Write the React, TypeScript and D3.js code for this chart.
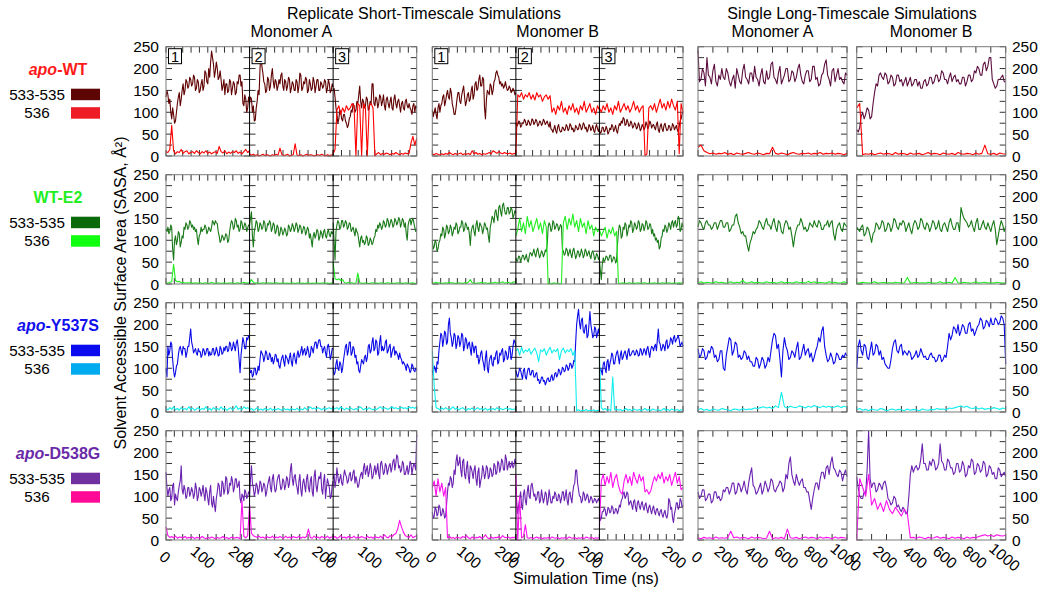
import React from "react";
import * as d3 from "d3";

// ---------- data (SASA, Å^2)
// 533-535: short replicates every 2.5 ns (0-220 ns), long runs every 10 ns (0-1000 ns)
// 536:     short replicates every 5 ns, long runs every 20 ns
const shortTicks = [0, 100, 200];
const longTicks = [0, 200, 400, 600, 800, 1000];
const yTicks = [0, 50, 100, 150, 200, 250];
const rowLabels = [["apo", "-WT"], ["", "WT-E2"], ["apo", "-Y537S"], ["apo", "-D538G"]];
const seriesLabels = ["533-535", "536"];

// apo-WT
const apoWT_sA_533 = [
  [135,150,140,120,130,100,85,110,95,75,80,100,120,135,145,115,130,150,165,140,150,175,170,155,160,180,175,160,165,185,180,150,155,175,170,145,150,165,175,150,160,195,190,170,165,200,180,215,240,225,210,180,195,215,200,175,180,195,175,150,160,175,140,165,165,145,150,175,170,140,155,170,165,140,145,170,165,185,185,160,170,120,115,140,130,100,110,135,125],
  [120,135,130,100,115,80,82,110,125,150,140,200,230,205,190,170,165,145,150,180,175,150,160,185,200,170,155,175,170,150,160,175,165,185,190,160,150,175,170,150,160,180,175,145,155,170,165,150,150,175,170,145,160,190,185,150,155,170,165,180,175,145,150,175,165,150,155,180,170,145,160,175,175,150,150,170,165,155,160,175,170,145,155,175,165,145,150,165,158],
  [150,155,135,110,95,75,85,105,100,85,80,95,95,80,75,65,70,85,90,105,100,120,115,100,105,125,120,140,160,125,110,130,125,110,115,135,130,105,110,125,120,165,165,120,115,135,130,110,120,140,135,115,125,140,115,105,130,135,120,110,125,135,110,105,130,140,120,110,125,130,115,100,120,125,110,105,125,130,115,110,120,110,105,95,115,120,100,115,110],
];
const apoWT_sA_536 = [
  [10,8,15,70,12,5,10,8,15,6,10,12,5,8,10,6,12,8,5,10,7,12,6,9,5,8,10,6,22,10,7,12,5,9,6,10,8,12,6,9,5,10,15,8,12],
  [5,2,4,1,3,0,2,4,1,3,2,0,3,1,4,2,18,3,1,2,4,0,2,3,28,2,1,3,0,2,4,1,3,2,0,2,3,1,4,2,0,3,1,2,3],
  [5,15,105,115,95,110,100,115,105,110,120,115,0,120,115,0,120,110,0,115,120,110,0,5,8,3,6,4,7,5,3,6,4,8,5,3,6,4,7,5,6,30,45,25,40],
];
const apoWT_sB_533 = [
  [105,90,100,110,95,85,110,120,100,115,120,135,140,115,125,140,150,135,130,155,145,120,110,95,95,110,130,145,145,125,120,140,150,160,135,115,125,140,145,125,130,150,160,130,140,165,170,150,155,175,185,160,160,180,175,110,85,130,150,145,140,165,160,140,150,170,175,190,195,185,180,165,170,160,165,155,160,170,158,150,152,160,155,145,148,155,150,140,145],
  [75,68,72,80,78,66,70,76,75,84,80,70,72,82,78,70,74,85,82,72,76,84,80,68,72,80,78,70,74,84,80,72,76,80,72,66,78,62,60,54,62,70,58,52,66,72,60,55,56,66,64,58,60,72,68,58,62,74,70,60,64,55,58,70,66,60,62,74,70,60,64,76,72,62,66,55,60,72,68,58,63,70,58,54,66,72,62,56,68],
  [60,52,55,66,65,55,58,68,62,50,55,64,60,72,68,56,62,70,58,52,65,74,70,80,75,88,85,70,72,84,78,68,70,80,75,64,68,76,72,62,65,76,70,58,62,72,68,60,65,78,72,62,68,80,75,64,70,72,65,60,72,78,60,54,68,74,62,56,70,75,65,58,60,70,68,58,62,74,70,60,65,70,60,54,68,80,85,95,100],
];
const apoWT_sB_536 = [
  [5,3,6,4,2,5,3,6,4,8,5,3,6,4,5,7,3,5,4,6,3,12,5,8,4,6,3,5,4,6,8,5,12,9,6,10,7,5,8,6,5,7,4,6,5],
  [5,140,135,145,130,140,135,145,130,140,128,145,135,140,125,135,140,130,138,100,110,95,115,105,125,100,110,95,115,105,120,100,110,95,115,105,125,100,110,120,100,110,95,115,105],
  [110,100,115,105,120,100,110,95,115,105,125,100,110,120,105,115,100,110,125,105,115,100,110,115,0,5,110,115,105,120,100,115,130,110,120,105,125,110,130,115,105,125,5,120,100],
];
const apoWT_lA_533 = [240,170,175,200,190,160,225,185,180,165,195,210,170,160,185,175,200,180,175,200,190,170,160,175,185,155,200,185,170,165,195,210,180,175,165,190,190,170,205,180,175,160,185,200,170,165,195,175,180,210,215,180,175,165,190,205,165,175,185,200,200,170,175,195,190,170,180,200,210,185,170,165,185,195,195,170,175,205,205,175,180,160,165,185,190,210,220,185,175,160,195,200,170,185,200,175,180,170,165,190,185];
const apoWT_lA_536 = [20,25,12,8,5,7,4,6,5,8,4,6,3,7,5,4,6,8,5,4,7,5,3,6,5,20,6,4,7,5,3,6,8,5,4,6,5,7,4,6,5,8,4,6,5,7,4,6,5,3,6];
const apoWT_lB_533 = [60,55,65,90,100,85,95,110,105,85,90,120,145,165,160,185,190,180,175,190,185,165,170,185,180,160,165,185,185,170,175,160,170,180,160,170,180,160,165,175,175,160,170,155,155,170,175,160,165,180,180,165,170,185,185,170,175,195,190,175,175,165,180,190,170,180,185,170,175,165,165,180,180,160,170,185,185,170,175,195,190,205,200,185,185,210,215,195,205,225,225,175,165,155,160,175,175,180,185,170,170];
const apoWT_lB_536 = [110,120,3,5,4,6,3,5,7,4,6,5,3,8,4,6,5,3,7,4,5,6,3,5,8,4,6,5,3,7,5,4,6,3,8,5,4,6,5,3,7,4,6,25,5,4,6,3,7,5,4];

// WT-E2
const wtE2_sA_533 = [
  [125,120,130,115,120,135,130,80,55,100,110,90,100,120,115,85,95,110,105,130,125,140,135,125,130,145,140,130,135,125,130,120,125,105,90,110,115,130,120,125,125,135,130,115,120,130,125,120,130,145,140,135,145,140,138,120,110,95,100,112,108,100,105,115,112,95,100,120,135,145,140,125,130,150,145,130,135,120,125,145,140,125,130,140,135,120,128,135,132],
  [135,150,165,110,85,120,130,145,140,120,125,140,135,125,130,145,140,120,125,138,135,145,140,120,128,140,135,115,120,135,130,110,115,130,125,112,118,128,122,110,115,135,130,120,125,138,132,120,128,140,135,118,125,135,130,115,122,132,128,112,120,130,125,105,115,100,85,110,118,105,112,125,120,100,108,122,115,105,120,125,110,105,118,125,112,108,120,115,120],
  [140,100,55,120,135,145,140,125,130,145,145,130,135,145,140,125,130,140,138,120,125,130,120,110,128,120,115,100,85,105,110,95,100,90,95,110,105,88,92,105,100,90,95,105,110,125,120,135,128,140,135,125,130,145,140,130,135,150,145,130,138,148,142,130,135,150,145,135,140,152,148,130,138,150,145,130,140,115,100,135,145,150,135,145,150,140,130,120,125],
];
const wtE2_sA_536 = [
  [3,2,4,5,45,8,5,6,3,4,2,3,2,4,1,3,2,2,3,1,2,3,1,2,4,2,1,3,2,1,2,3,1,2,2,3,1,2,3,1,2,4,2,3,2],
  [3,10,4,2,3,1,2,3,2,1,3,2,2,1,3,2,1,2,3,1,2,1,3,2,1,2,3,1,2,1,2,3,1,2,1,3,2,1,2,3,1,2,1,2,3],
  [50,12,10,12,8,10,3,2,4,2,3,1,2,25,3,2,1,3,2,1,2,3,1,2,1,3,2,1,2,3,1,2,1,2,3,1,2,1,3,2,1,2,3,1,2],
];
const wtE2_sB_533 = [
  [100,80,85,100,95,75,80,95,100,115,110,130,125,105,115,135,130,115,120,135,128,110,118,130,125,140,135,115,120,130,130,145,140,120,125,140,135,125,130,115,88,120,130,135,120,110,135,145,128,120,140,135,130,115,125,140,135,125,128,110,95,130,140,155,150,140,165,170,155,145,175,180,165,155,180,185,170,160,160,175,175,160,165,175,170,150,158,168,162],
  [60,52,55,64,62,50,58,66,65,55,60,68,55,50,62,72,70,64,72,80,68,62,75,82,70,60,66,76,72,62,68,78,74,90,130,140,135,120,125,145,140,125,130,138,135,122,128,136,132,80,75,66,70,82,78,64,72,80,68,60,76,82,70,58,65,76,74,62,68,80,72,60,66,80,75,64,70,76,64,58,72,76,68,55,60,70,66,56,62],
  [55,30,10,45,60,52,55,64,62,54,58,66,65,50,55,62,60,48,52,90,120,135,130,105,110,130,125,140,135,110,120,135,130,145,140,118,125,140,135,125,130,145,140,120,125,138,135,122,130,145,140,125,128,138,135,115,125,110,115,100,105,95,100,80,85,105,110,125,120,135,130,118,125,140,135,125,140,145,130,140,145,130,135,155,150,120,125,140,130],
];
const wtE2_sB_536 = [
  [3,2,4,2,3,1,2,3,2,4,2,3,1,2,3,2,1,3,2,4,10,3,2,1,3,2,4,2,3,1,2,3,2,4,3,2,3,5,2,3,4,2,3,5,4],
  [110,125,150,120,140,115,155,130,145,120,135,150,125,140,115,145,130,0,2,0,3,1,2,0,2,140,155,125,150,135,160,130,145,120,150,130,140,115,145,125,135,110,130,120,125],
  [125,110,120,130,105,125,115,130,110,120,2,1,3,2,1,2,3,1,2,1,3,2,1,2,3,1,2,1,2,3,1,2,1,3,2,1,2,3,1,2,1,2,3,2,1],
];
const wtE2_lA_533 = [130,145,140,130,125,140,145,135,135,125,130,140,140,125,135,145,145,130,130,140,140,120,125,135,135,155,160,140,130,115,120,110,110,90,75,95,105,120,115,125,130,145,140,130,125,140,150,135,135,125,140,150,130,120,145,140,120,115,135,145,140,125,130,110,85,110,125,135,135,150,140,125,130,120,125,140,135,130,145,135,130,145,140,125,125,135,135,145,130,140,145,115,100,125,135,140,125,120,140,135,130];
const wtE2_lA_536 = [3,5,2,4,3,2,5,3,4,2,3,5,2,4,3,8,2,3,5,2,4,3,2,5,3,4,2,3,5,2,4,3,2,5,3,4,2,6,3,5,2,4,3,2,5,3,4,2,3,5,2];
const wtE2_lB_533 = [130,125,120,130,135,110,115,130,125,110,95,115,120,140,135,125,130,145,140,120,125,140,135,120,130,150,145,130,125,140,135,145,140,120,130,140,125,115,135,145,140,125,130,150,145,130,125,140,135,120,130,145,140,125,130,145,125,120,135,140,130,120,140,150,135,125,125,140,140,120,175,160,150,145,140,130,135,145,130,120,140,150,125,125,135,145,130,125,140,130,120,135,145,125,90,110,130,145,135,120,132];
const wtE2_lB_536 = [3,2,4,3,2,3,5,2,3,4,2,3,2,4,3,2,3,15,2,3,4,2,3,2,4,3,2,3,5,2,3,4,2,15,3,2,4,3,2,3,5,2,3,4,2,3,2,4,3,2,3];

// apo-Y537S
const y537s_sA_533 = [
  [100,80,150,130,140,160,155,120,95,80,90,105,110,130,145,150,140,130,150,145,145,125,135,150,150,170,190,160,150,135,140,145,135,130,145,138,138,125,130,145,142,130,135,145,145,128,138,130,132,145,145,130,135,148,140,128,130,150,145,132,135,148,140,150,150,138,142,160,155,140,145,160,150,140,158,165,148,120,90,130,150,170,160,145,145,170,165,175,170],
  [100,90,95,80,85,100,100,85,90,105,95,120,140,135,130,115,125,140,135,120,120,135,130,115,125,110,118,132,130,115,122,105,100,115,125,130,115,105,130,125,120,110,125,135,115,105,128,135,120,110,130,140,125,130,140,150,130,140,145,130,135,150,140,125,130,150,145,135,150,160,160,145,155,165,165,150,150,135,145,150,135,125,150,155,140,120,130,145,145],
  [100,85,90,110,120,100,95,115,110,90,100,120,135,150,155,130,140,160,160,130,135,150,145,125,130,110,115,95,90,105,120,115,110,125,130,115,125,150,155,135,140,160,170,140,145,165,160,130,135,160,175,140,150,140,145,160,165,135,140,150,155,125,135,145,150,130,140,135,130,120,135,125,120,110,115,110,105,95,110,105,100,90,95,110,105,95,92,100,95],
];
const y537s_sA_536 = [
  [8,5,10,6,12,5,8,4,10,6,8,5,12,6,9,4,7,10,5,8,6,12,5,8,4,10,6,8,5,12,6,9,4,7,10,5,8,14,6,9,5,12,8,10,7],
  [5,8,4,6,10,5,7,4,8,6,5,9,4,7,5,8,6,4,9,5,7,4,8,6,5,9,4,7,5,10,6,8,12,7,9,6,10,8,5,9,6,8,10,7,9],
  [5,8,10,6,12,8,5,9,6,10,7,5,8,6,12,9,5,8,6,10,7,5,8,6,9,12,7,10,8,6,9,12,8,10,7,9,11,8,10,7,12,9,11,8,13],
];
const y537s_sB_533 = [
  [95,85,105,100,90,115,110,140,160,180,175,150,165,185,180,155,160,200,215,180,170,150,160,180,175,145,155,175,170,150,160,180,175,140,150,170,165,145,155,160,145,130,160,150,135,150,150,125,130,110,120,135,140,120,110,95,125,140,100,90,115,125,130,110,105,125,120,135,140,110,115,135,130,140,145,115,120,140,135,120,125,150,145,120,130,150,165,160,150],
  [95,85,80,90,100,95,85,75,95,100,80,75,90,100,100,85,85,95,95,80,80,88,90,72,75,65,70,80,80,70,72,62,68,76,78,70,70,80,85,72,75,88,90,80,85,98,95,85,90,102,100,92,95,108,105,95,100,112,110,100,105,118,115,160,200,220,235,205,190,210,215,185,180,195,200,170,175,200,230,200,185,170,175,195,190,170,180,190,175],
  [90,100,95,85,110,115,100,90,115,120,95,110,120,135,130,110,110,125,135,140,125,110,130,140,120,125,135,140,130,120,138,145,128,130,135,140,140,130,132,142,138,128,130,145,142,130,135,145,140,130,145,150,135,125,142,150,148,140,150,155,140,165,190,160,155,140,145,155,150,140,160,165,145,150,155,170,165,155,170,175,160,165,170,175,165,150,155,160,150],
];
const y537s_sB_536 = [
  [140,60,10,8,5,9,6,10,7,5,8,12,6,9,5,8,10,6,4,8,6,9,5,7,10,6,8,5,9,4,7,6,8,5,10,6,8,5,7,9,6,8,5,7,6],
  [140,145,130,148,135,142,138,145,132,140,146,135,115,142,138,145,130,140,148,135,142,138,145,120,140,146,135,142,138,145,130,140,3,5,2,4,3,6,2,4,3,5,2,4,3],
  [130,10,5,8,4,6,3,80,5,7,4,6,3,5,8,4,6,3,7,5,4,6,3,5,8,4,6,3,7,5,4,6,3,5,8,4,6,3,7,5,4,6,3,5,4],
];
const y537s_lA_533 = [145,125,130,145,140,120,125,140,135,150,145,125,130,115,120,140,140,100,95,130,150,170,165,130,140,160,155,125,130,120,125,140,135,120,128,115,115,105,105,125,120,100,110,125,118,100,108,125,115,140,165,180,175,145,155,120,80,140,170,150,140,120,125,140,135,125,145,160,120,125,140,155,130,140,145,125,135,115,125,140,150,170,160,185,195,150,130,115,120,135,125,110,115,135,130,120,120,130,125,135,128];
const y537s_lA_536 = [5,8,4,6,3,7,5,4,8,6,5,3,7,6,4,8,5,7,6,9,8,10,12,9,11,8,14,10,45,12,9,13,11,10,14,12,9,13,11,15,12,10,14,11,13,9,12,14,10,13,11];
const y537s_lB_533 = [100,150,165,140,130,155,150,125,120,140,160,130,135,155,150,130,140,120,125,110,105,100,100,120,145,160,165,140,135,150,155,130,140,135,130,140,135,120,125,130,140,125,130,145,135,125,128,120,120,130,135,125,125,115,118,130,130,115,120,130,125,150,180,165,175,195,190,180,200,175,185,200,195,180,180,200,205,185,190,175,185,195,200,215,210,190,195,210,205,195,215,200,200,215,210,200,205,220,215,200,110];
const y537s_lB_536 = [5,8,4,6,3,7,5,4,8,6,3,5,7,4,6,5,3,7,4,6,5,3,7,5,4,6,5,8,6,7,5,9,8,10,12,14,11,13,9,8,10,7,9,6,8,7,10,8,6,9,7];

// apo-D538G
const d538g_sA_533 = [
  [155,120,100,115,120,90,95,125,130,80,105,95,90,110,125,135,170,115,105,125,115,95,100,120,120,100,108,120,112,95,105,130,118,90,100,120,115,100,110,125,105,90,120,110,95,80,110,125,85,75,100,80,65,95,110,130,125,100,100,135,130,105,115,145,140,105,110,130,125,145,135,110,120,140,140,120,125,135,95,85,105,100,90,115,110,95,100,110,105],
  [100,140,170,130,120,100,110,130,125,105,115,135,130,110,118,130,125,100,110,125,135,145,120,110,140,150,125,110,115,135,145,150,130,115,120,140,135,115,125,145,140,120,130,160,175,140,125,145,150,130,120,105,135,150,115,100,130,140,125,110,140,150,120,110,135,145,110,100,145,160,125,110,130,145,140,155,115,105,135,150,95,120,140,130,120,95,100,125,135],
  [140,150,120,135,165,145,130,140,150,130,125,145,160,150,145,130,135,150,155,135,140,155,160,130,145,135,120,125,140,150,155,140,165,175,150,160,170,145,155,175,165,140,145,160,170,150,160,175,150,140,175,180,165,150,155,175,170,150,160,170,175,155,165,180,185,160,175,195,190,165,170,155,160,180,175,150,150,160,170,150,160,180,175,150,165,175,170,160,240],
];
const d538g_sA_536 = [
  [30,10,6,8,5,9,4,7,6,5,8,4,6,5,7,3,6,5,4,8,5,3,6,4,7,5,3,6,4,5,8,4,6,3,5,7,4,6,5,3,90,8,5,10,80],
  [80,15,10,8,6,9,5,7,4,8,6,5,9,4,7,5,8,6,4,9,5,7,4,8,6,5,9,4,7,5,8,25,6,4,9,5,7,4,8,6,5,9,4,7,6],
  [5,8,4,6,10,5,7,4,8,6,5,9,4,7,5,8,6,4,9,5,7,4,8,6,5,9,4,12,7,5,10,8,12,15,25,45,30,18,10,8,6,12,5,8,10],
];
const d538g_sB_533 = [
  [65,50,55,75,70,55,60,80,75,55,58,72,65,50,55,80,110,130,125,145,140,120,130,160,150,180,195,170,175,190,160,145,180,185,150,140,165,180,145,130,170,165,155,140,160,170,140,125,155,165,120,135,145,170,160,140,150,170,165,140,145,165,160,145,150,175,170,150,155,180,175,155,165,185,180,160,160,195,185,160,170,180,165,170,180,165,170,185,175],
  [120,80,60,80,95,110,80,70,105,115,90,80,110,125,100,95,125,130,115,100,105,90,95,110,110,85,90,115,100,85,95,110,105,80,90,115,100,85,85,100,95,110,105,90,90,105,100,85,95,110,110,90,100,115,90,80,105,110,95,85,110,125,130,160,160,130,115,100,100,85,90,110,105,90,95,105,100,85,90,100,95,85,88,95,92,85,90,95,88],
  [60,45,50,65,65,72,70,55,60,75,72,62,65,78,75,60,62,72,70,60,68,80,75,90,95,105,110,95,100,110,105,80,85,90,80,70,88,92,75,65,85,90,78,70,82,88,75,68,80,85,70,62,75,80,68,60,72,78,65,58,70,72,62,55,66,70,58,52,62,68,55,50,60,95,90,70,75,50,40,60,70,85,85,70,75,95,90,75,80],
];
const d538g_sB_536 = [
  [120,135,100,140,110,130,100,120,5,8,4,6,3,7,5,4,8,6,10,5,3,7,4,6,5,8,4,6,12,5,3,7,4,6,5,8,4,10,6,5,7,4,6,5,8],
  [150,0,100,5,8,35,5,4,6,3,5,7,4,6,3,5,4,6,3,7,5,4,6,3,5,4,6,3,7,5,4,6,3,5,4,6,3,7,5,4,6,3,5,4,6],
  [30,135,150,125,145,130,155,120,140,150,125,110,105,135,150,130,145,125,155,140,130,150,135,145,110,115,105,112,130,145,135,150,140,155,130,145,135,150,125,140,155,130,145,115,120],
];
const d538g_lA_533 = [110,95,100,115,115,90,95,105,105,85,90,110,110,95,100,90,95,115,110,120,120,105,115,130,130,105,110,130,125,110,120,135,115,105,130,150,165,125,120,105,110,120,130,105,115,135,125,110,120,140,135,115,110,120,125,135,130,110,120,150,140,175,190,150,135,125,150,135,125,135,140,120,120,110,110,90,70,95,115,130,130,115,140,155,155,140,165,170,150,175,190,165,160,150,145,160,155,135,150,160,145];
const d538g_lA_536 = [5,3,6,4,5,3,7,4,5,4,6,20,5,7,4,6,5,3,7,4,6,5,3,4,20,3,5,4,6,3,25,5,4,6,3,5,7,4,6,5,3,7,4,6,5,3,7,4,6,5,4];
const d538g_lB_533 = [145,120,100,95,95,110,105,160,250,140,120,130,130,110,115,130,125,115,130,135,120,95,90,80,85,100,95,75,80,70,65,75,70,60,60,100,150,170,155,165,170,160,165,185,220,175,175,160,160,180,170,185,180,160,165,175,220,180,175,160,160,185,180,165,165,150,155,175,175,155,160,180,170,145,150,170,165,185,180,150,155,175,170,155,160,180,175,145,150,170,165,150,155,140,140,165,160,145,150,155,145];
const d538g_lB_536 = [0,140,120,100,150,80,95,70,85,65,90,70,60,75,65,55,70,60,5,6,4,7,5,3,6,4,5,8,4,6,5,3,7,4,6,5,3,7,4,6,5,8,10,12,9,11,8,12,10,9,11];

// ---------- layout / style
const FONT = "'Liberation Sans', Arial, Helvetica, sans-serif";
const ROW_TOP = 46.7, ROW_PITCH = 128, ROW_H = 109.3;
const SHORT_X = [166, 432.3], SHORT_W = 250.7;
const LONG_X = [698, 856.7], LONG_W = 149;
const SHORT_T = 220, LONG_T = 1000;
const TICK = 6;

const rows = [
  { title: "#ff1a1a", sw: ["#5e0606", "#ee1c25"], line: ["#600000", "#ff0000"], lineLong: "#5c0f3f",
    sA: [apoWT_sA_533, apoWT_sA_536], sB: [apoWT_sB_533, apoWT_sB_536], lA: [apoWT_lA_533, apoWT_lA_536], lB: [apoWT_lB_533, apoWT_lB_536] },
  { title: "#22ee22", sw: ["#0a6a0a", "#11ff11"], line: ["#1a7a1a", "#22ee22"], lineLong: "#1a7a1a",
    sA: [wtE2_sA_533, wtE2_sA_536], sB: [wtE2_sB_533, wtE2_sB_536], lA: [wtE2_lA_533, wtE2_lA_536], lB: [wtE2_lB_533, wtE2_lB_536] },
  { title: "#1010ee", sw: ["#0a0aee", "#00aaee"], line: ["#0a0ae8", "#11eeee"], lineLong: "#0a0ae8",
    sA: [y537s_sA_533, y537s_sA_536], sB: [y537s_sB_533, y537s_sB_536], lA: [y537s_lA_533, y537s_lA_536], lB: [y537s_lB_533, y537s_lB_536] },
  { title: "#6a2aa8", sw: ["#7030a0", "#ff0a96"], line: ["#6a22b0", "#ff11ee"], lineLong: "#6a22b0",
    sA: [d538g_sA_533, d538g_sA_536], sB: [d538g_sB_533, d538g_sB_536], lA: [d538g_lA_533, d538g_lA_536], lB: [d538g_lB_533, d538g_lB_536] },
];

function tracePath(values: number[], xs: d3.ScaleLinear<number, number>, ys: d3.ScaleLinear<number, number>, T: number) {
  const step = T / (values.length - 1);
  return d3.line<number>().x((_, i) => xs(i * step)).y((d) => ys(d))(values) || "";
}

function Cell({ x0, w, T, minor, ys, s533, s536, c533, c536, labels, bottomLabels }: any) {
  const xs = d3.scaleLinear().domain([0, T]).range([x0, x0 + w]);
  const top = ys(250), bot = ys(0);
  const xt = d3.range(0, T + 0.01, minor);
  return (
    <g>
      {d3.range(0, 251, 25).map((v) => (
        <g key={"y" + v} stroke="#333" strokeWidth={1}>
          <line x1={x0} x2={x0 + TICK} y1={ys(v)} y2={ys(v)} />
          <line x1={x0 + w - TICK} x2={x0 + w} y1={ys(v)} y2={ys(v)} />
        </g>
      ))}
      {xt.map((t) => (
        <g key={"x" + t} stroke="#333" strokeWidth={1}>
          <line x1={xs(t)} x2={xs(t)} y1={top} y2={top + TICK} />
          <line x1={xs(t)} x2={xs(t)} y1={bot - TICK} y2={bot} />
        </g>
      ))}
      <path d={tracePath(s533, xs, ys, T)} fill="none" stroke={c533} strokeWidth={1.1} strokeLinejoin="round" />
      <path d={tracePath(s536, xs, ys, T)} fill="none" stroke={c536} strokeWidth={1.1} strokeLinejoin="round" />
      {bottomLabels &&
        labels.map((t: number) => (
          <text key={"l" + t} transform={`translate(${xs(t) - 1},${bot + 17}) rotate(40)`} textAnchor="middle"
            dominantBaseline="central" fontSize={15.5} fill="#000">{t}</text>
        ))}
    </g>
  );
}

export default function App() {
  return (
    <svg width={1050} height={593} style={{ position: "absolute", left: 0, top: 0, background: "#fff" }} fontFamily={FONT}>
      <rect width={1050} height={593} fill="#fff" />
      <g fontSize={16} fill="#000" textAnchor="middle">
        <text x={424} y={19}>Replicate Short-Timescale Simulations</text>
        <text x={852} y={19}>Single Long-Timescale Simulations</text>
        <text x={SHORT_X[0] + SHORT_W / 2} y={37}>Monomer A</text>
        <text x={SHORT_X[1] + SHORT_W / 2} y={37}>Monomer B</text>
        <text x={LONG_X[0] + LONG_W / 2} y={37}>Monomer A</text>
        <text x={LONG_X[1] + LONG_W / 2} y={37}>Monomer B</text>
        <text x={586} y={584}>Simulation Time (ns)</text>
        <text transform="translate(126,293) rotate(-90)">Solvent Accessible Surface Area (SASA, Å²)</text>
      </g>
      {rows.map((row, r) => {
        const top = ROW_TOP + r * ROW_PITCH;
        const ys = d3.scaleLinear().domain([0, 250]).range([top + ROW_H, top]);
        const last = r === rows.length - 1;
        const shorts = [row.sA, row.sB];
        const longs = [row.lA, row.lB];
        return (
          <g key={r}>
            <text x={58} y={top + 28} textAnchor="middle" fontSize={16} fontWeight="bold" fill={row.title}>
              {rowLabels[r][0] && <tspan fontStyle="italic">{rowLabels[r][0]}</tspan>}
              <tspan>{rowLabels[r][1]}</tspan>
            </text>
            {seriesLabels.map((s, k) => (
              <g key={s}>
                <text x={37} y={top + 53 + k * 18.5} textAnchor="middle" fontSize={15.2} fill="#000">{s}</text>
                <rect x={71} y={top + 42 + k * 18.5} width={29} height={11.5} fill={row.sw[k]} />
              </g>
            ))}
            {yTicks.map((v) => (
              <g key={v} fontSize={15.5} fill="#000" dominantBaseline="central">
                <text x={159} y={ys(v)} textAnchor="end">{v}</text>
                <text x={1012} y={ys(v)} textAnchor="start">{v}</text>
              </g>
            ))}
            {shorts.map((set, p) => {
              const x0 = SHORT_X[p];
              const sw = SHORT_W / 3;
              return (
                <g key={"s" + p}>
                  {[0, 1, 2].map((k) => (
                    <Cell key={k} x0={x0 + k * sw} w={sw} T={SHORT_T} minor={22} ys={ys}
                      s533={set[0][k]} s536={set[1][k]} c533={row.line[0]} c536={row.line[1]}
                      labels={shortTicks} bottomLabels={last} />
                  ))}
                  <rect x={x0} y={top} width={SHORT_W} height={ROW_H} fill="none" stroke="#7a7a7a" strokeWidth={1} />
                  {[1, 2].map((k) => (
                    <line key={k} x1={x0 + k * sw} x2={x0 + k * sw} y1={top} y2={top + ROW_H} stroke="#000" strokeWidth={1} />
                  ))}
                  {r === 0 && [0, 1, 2].map((k) => (
                    <g key={"n" + k}>
                      <rect x={x0 + k * sw + 2.5} y={top + 2} width={13} height={15} fill="#fff" stroke="#000" strokeWidth={1} />
                      <text x={x0 + k * sw + 9} y={top + 15} textAnchor="middle" fontSize={14.5} fill="#000">{k + 1}</text>
                    </g>
                  ))}
                </g>
              );
            })}
            {longs.map((set, p) => (
              <g key={"l" + p}>
                <Cell x0={LONG_X[p]} w={LONG_W} T={LONG_T} minor={100} ys={ys}
                  s533={set[0]} s536={set[1]} c533={row.lineLong} c536={row.line[1]}
                  labels={longTicks} bottomLabels={last} />
                <rect x={LONG_X[p]} y={top} width={LONG_W} height={ROW_H} fill="none" stroke="#7a7a7a" strokeWidth={1} />
              </g>
            ))}
          </g>
        );
      })}
    </svg>
  );
}
